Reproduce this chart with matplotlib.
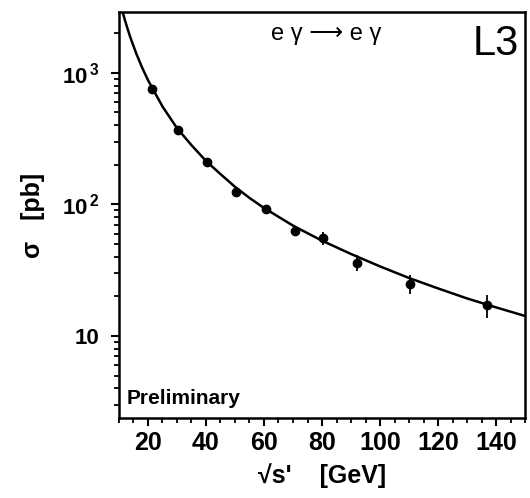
"""L3 preliminary: e gamma -> e gamma cross section versus sqrt(s')."""

import matplotlib

matplotlib.use("Agg")
import matplotlib.pyplot as plt
from matplotlib.ticker import FixedLocator, MultipleLocator, NullFormatter

plt.rcParams["font.family"] = ["Liberation Sans", "DejaVu Sans"]
plt.rcParams["font.weight"] = "bold"
plt.rcParams["mathtext.fontset"] = "custom"
plt.rcParams["mathtext.rm"] = "Liberation Sans:bold"
plt.rcParams["mathtext.bf"] = "Liberation Sans:bold"

sqrt_s = [21.5, 30.4, 40.4, 50.3, 60.7, 70.8, 80.3, 92.2, 110.4, 136.9]
sigma = [755, 369, 209, 124, 93, 63, 55.5, 36, 25, 17.1]
sigma_err = [25, 12, 7, 5, 3, 3, 6, 5, 4, 3.3]

# theory curve
curve_x = [11.2, 12, 13, 14, 16, 18, 20, 25, 30, 35, 40, 45, 50, 55, 60,
           70, 80, 90, 100, 110, 120, 130, 140, 150]
curve_y = [2930, 2535, 2150, 1836, 1394, 1093, 880, 555, 380, 282, 214, 170,
           136, 112, 94, 69, 53, 42, 33.8, 27.6, 23, 19.3, 16.5, 14.2]

y_ticks = [10, 100, 1000]
y_labels = ["10", r"10$^{\,2}$", r"10$^{\,3}$"]
x_ticks = [20, 40, 60, 80, 100, 120, 140]

fig = plt.figure(figsize=(5.30, 4.98), dpi=100)
ax = fig.add_axes([0.2245, 0.1606, 0.7661, 0.8153])

ax.plot(curve_x, curve_y, color="black", linewidth=1.8, zorder=2)
ax.errorbar(sqrt_s, sigma, yerr=sigma_err, fmt="o", color="black",
            markersize=6, elinewidth=1.3, capsize=0, zorder=3)

ax.set_yscale("log")
ax.set_xlim(10, 150)
ax.set_ylim(2.38, 2900)

ax.yaxis.set_major_locator(FixedLocator(y_ticks))
ax.set_yticklabels(y_labels)
ax.yaxis.set_minor_formatter(NullFormatter())
ax.xaxis.set_major_locator(FixedLocator(x_ticks))
ax.xaxis.set_minor_locator(MultipleLocator(5))

for side in ax.spines.values():
    side.set_linewidth(1.8)
ax.tick_params(which="major", direction="out", length=6, width=1.5,
               labelsize=18, top=False, right=False)
ax.tick_params(which="minor", direction="out", length=3.5, width=1.3,
               top=False, right=False)
ax.tick_params(axis="y", labelsize=16, pad=8)

ax.set_xlabel("√s'    [GeV]", fontsize=18, fontweight="bold", labelpad=6)
ax.set_ylabel("σ   [pb]", fontsize=18, fontweight="bold", labelpad=12)

ax.text(0.51, 0.945, "e γ ⟶ e γ", transform=ax.transAxes,
        ha="center", va="center", fontsize=17, weight="normal")
ax.text(0.985, 0.97, "L3", transform=ax.transAxes, ha="right", va="top",
        fontsize=30, weight="normal")
ax.text(0.02, 0.025, "Preliminary", transform=ax.transAxes, ha="left",
        va="bottom", fontsize=15)

fig.savefig("out.png", dpi=100)
